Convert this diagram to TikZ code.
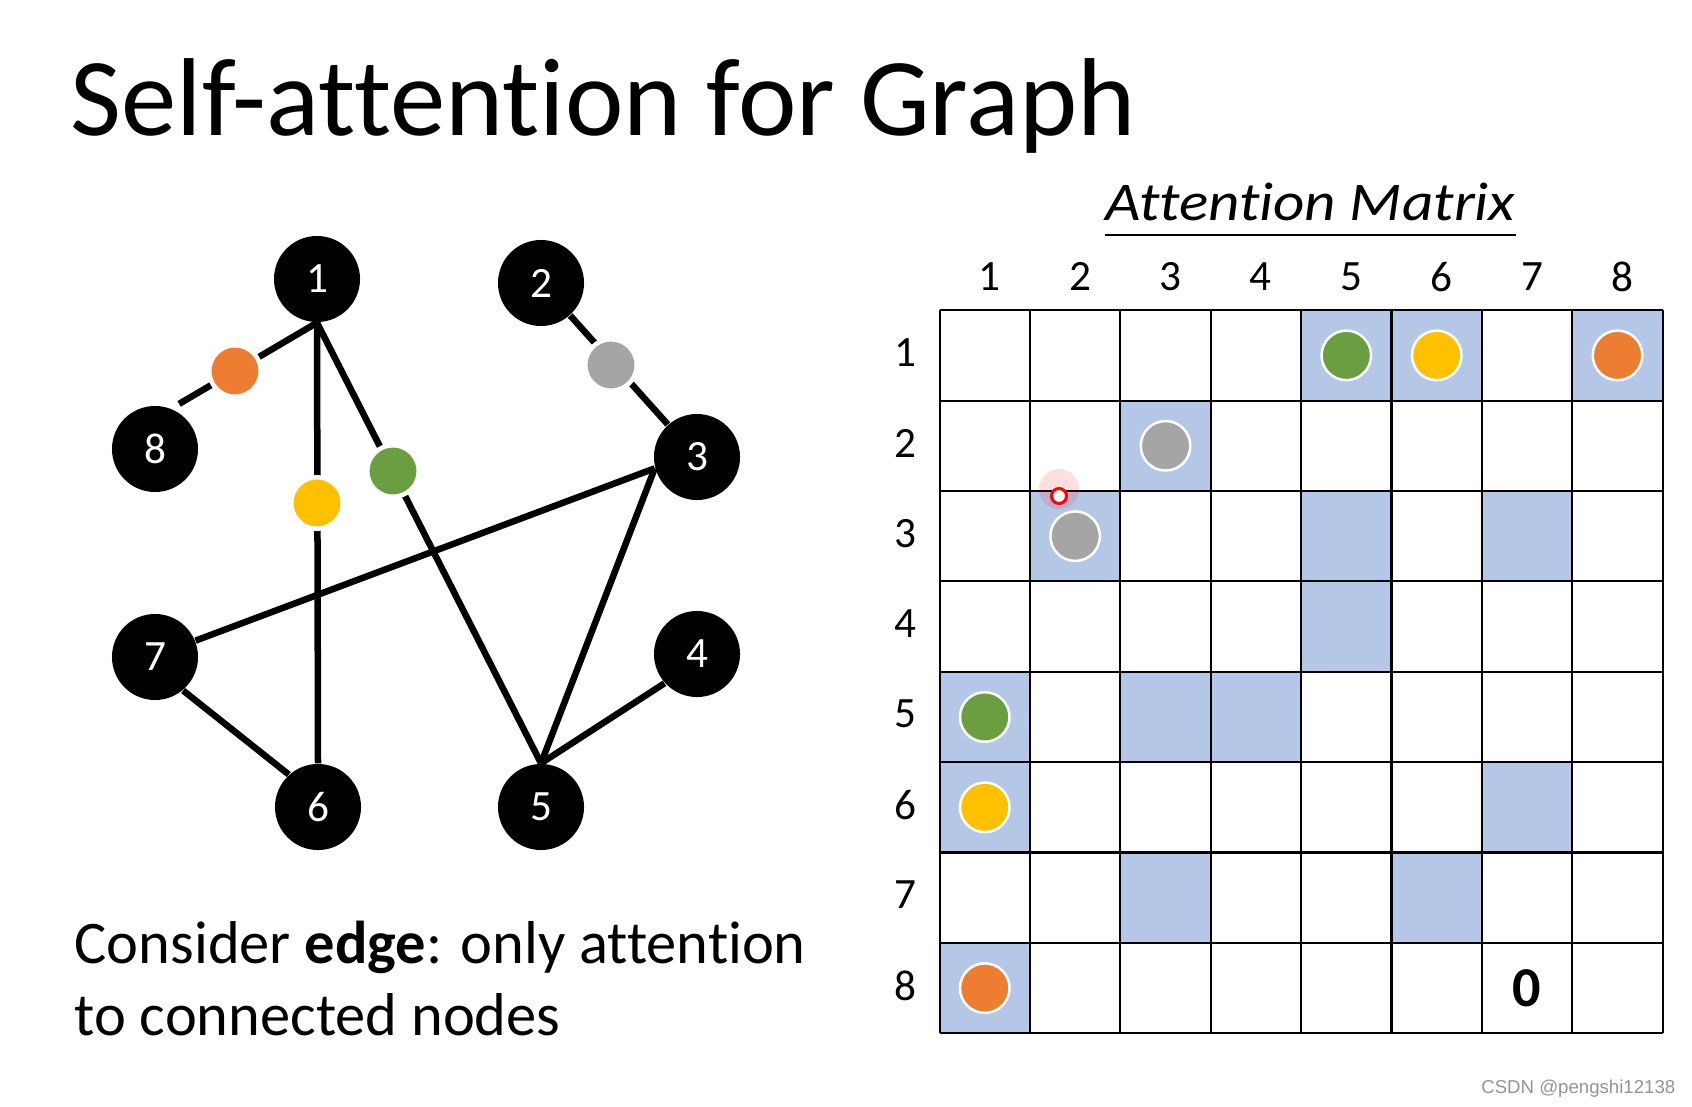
\documentclass[tikz,border=0pt]{standalone}
\usepackage{fontspec}
\usepackage{graphicx}
\setmainfont{Carlito}[Ligatures={NoCommon}]
\newfontfamily\markfont{Liberation Sans}
\usetikzlibrary{positioning}
\definecolor{attblue}{RGB}{180,199,231}
\definecolor{attgreen}{RGB}{106,158,64}
\definecolor{attyellow}{RGB}{255,192,0}
\definecolor{attorange}{RGB}{237,125,49}
\definecolor{attgray}{RGB}{165,165,165}

\begin{document}
\begin{tikzpicture}[x=0.01cm, y=-0.01cm,
    gnode/.style={circle, fill=black, minimum size=0.86cm, inner sep=0pt,
                  text=white, font=\fontsize{12.3}{14}\selectfont},
    edge/.style={line width=0.065cm, black},
    edot/.style={circle, draw=white, line width=0.045cm, minimum size=0.515cm, inner sep=0pt},
    mdot/.style={circle, draw=white, line width=0.025cm, minimum size=0.495cm, inner sep=0pt},
    idx/.style={inner sep=0pt, font=\fontsize{12.3}{14}\selectfont},
    grid/.style={line width=0.6pt, black}
]
    \useasboundingbox (0,0) rectangle (1692,1106);

    % title
    \node[anchor=base west, inner sep=0pt, font=\fontsize{31.5}{38}\selectfont] (title) at (70,135) {Self-attention for Graph};

    % graph
    \node[gnode] (n1) at (317,279) {1};
    \node[gnode] (n2) at (541,283) {2};
    \node[gnode] (n3) at (697,457) {3};
    \node[gnode] (n4) at (697,654) {4};
    \node[gnode] (n5) at (541,807) {5};
    \node[gnode] (n6) at (318,807) {6};
    \node[gnode] (n7) at (155,657) {7};
    \node[gnode] (n8) at (155,449) {8};

    \draw[edge, shorten >=0.09cm] (n1.south) -- (n8.68);
    \draw[edge] (n1.south) -- (n6.north);
    \draw[edge] (n1.south) -- (n5.north);
    \draw[edge] (n2) -- (n3);
    \draw[edge] (n3.195) -- (n7.22);
    \draw[edge] (n3.195) -- (n5.north);
    \draw[edge] (n4.222) -- (n5.north);
    \draw[edge] (n7.-50) -- (n6.132);

    \node[edot, fill=attorange] (d18) at (235,371) {};
    \node[edot, fill=attyellow] (d16) at (317,503) {};
    \node[edot, fill=attgreen] (d15) at (393,471) {};
    \node[edot, fill=attgray] (d23) at (611,365) {};

    \node[anchor=base west, inner sep=0pt, font=\fontsize{17.2}{20}\selectfont] (note1) at (74,963) {Consider \textbf{edge}: only attention};
    \node[anchor=base west, inner sep=0pt, font=\fontsize{17.2}{20}\selectfont] (note2) at (74,1035) {to connected nodes};

    % attention matrix
    \node[anchor=base west, inner sep=0pt, font=\itshape\fontsize{15.5}{17}\selectfont] (amtitle) at (1105,220) {\scalebox{1.12}[1]{Attention Matrix}};
    \draw[line width=0.5pt] ([yshift=-0.15cm]amtitle.base west) -- ([yshift=-0.15cm]amtitle.base east);

    \begin{scope}[xshift=9.39cm, yshift=-3.10cm, x=0.9034cm, y=-0.9034cm]
        \foreach \r/\c in {1/5,1/6,1/8,2/3,3/2,3/5,3/7,4/5,5/1,5/3,5/4,6/1,6/7,7/3,7/6,8/1}
            \fill[attblue] (\c-1,\r-1) rectangle (\c,\r);
        \foreach \i in {0,...,8} {
            \draw[grid] (\i,0) -- (\i,8);
            \draw[grid] (0,\i) -- (8,\i);
        }
        \foreach \i in {1,...,8} {
            \node[idx] (col\i) at (\i-0.445,-0.369) {\i};
            \node[idx] (row\i) at (-0.376,\i-0.53) {\i};
        }
        \foreach \r/\c/\col in {1/5/attgreen,1/6/attyellow,1/8/attorange,2/3/attgray,
                                3/2/attgray,5/1/attgreen,6/1/attyellow,8/1/attorange}
            \node[mdot, fill=\col] (m\r\c) at (\c-0.5,\r-0.5) {};
        \node[inner sep=0pt, font=\bfseries\fontsize{16}{18}\selectfont] (zero) at (6.5,7.5) {0};
    \end{scope}

    % pointer
    \fill[red, opacity=0.12] (1059,489) circle[radius=0.2cm];
    \node[circle, draw=red, fill=white, line width=0.03cm, minimum size=0.15cm, inner sep=0pt] (pointer) at (1059,496) {};

    \node[anchor=base east, inner sep=0pt, text=gray!85, font=\markfont\fontsize{5.3}{6}\selectfont] (mark) at (1676,1093) {CSDN @pengshi12138};
\end{tikzpicture}
\end{document}
